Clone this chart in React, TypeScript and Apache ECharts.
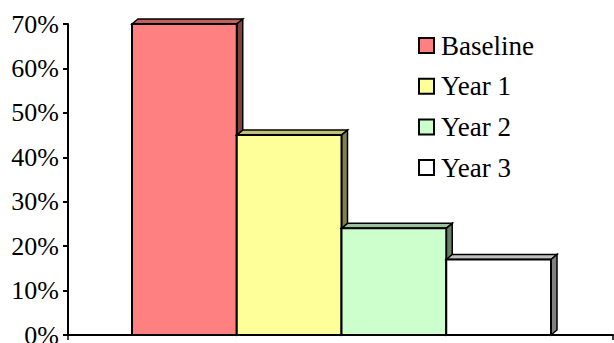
import { useEffect, useRef } from 'react';
import * as echarts from 'echarts';

const categories = [''];
const seriesNames = ['Baseline', 'Year 1', 'Year 2', 'Year 3'];
const seriesValues = [70, 45, 24, 17];
const frontColors = ['#FF8080', '#FFFF99', '#CCFFCC', '#FFFFFF'];
const topColors = ['#C06060', '#C0C07A', '#9ABF9A', '#C0C0C0'];
const sideColors = ['#804040', '#80804C', '#668066', '#808080'];

const FONT = 'Liberation Serif, serif';
const GAP = 64 / 545;
const BAR = 104.75 / 545;
const DX = 6;
const DY = 5;

export default function App() {
  const ref = useRef<HTMLDivElement>(null);
  useEffect(() => {
    if (!ref.current) return;
    const chart = echarts.init(ref.current, undefined, { renderer: 'svg' });
    const series = seriesNames.map((name, i) => ({
      type: 'custom',
      name,
      z: 2 + i,
      clip: false,
      itemStyle: { color: frontColors[i], borderColor: '#000', borderWidth: 2 },
      encode: { x: 0, y: 1 },
      data: [[0, seriesValues[i]]],
      renderItem: (params: any, api: any) => {
        const v = api.value(1);
        const base = api.coord([0, 0]);
        const top = api.coord([0, v]);
        const band = api.size([1, 0])[0];
        const l = base[0] - band / 2 + band * GAP + i * band * BAR;
        const r = l + band * BAR;
        const t = top[1];
        const b = base[1];
        return {
          type: 'group',
          children: [
            {
              type: 'polygon',
              shape: { points: [[l, t], [l + DX, t - DY], [r + DX, t - DY], [r, t]] },
              style: { fill: topColors[i], stroke: '#000', lineWidth: 1.5 },
            },
            {
              type: 'polygon',
              shape: { points: [[r, t], [r + DX, t - DY], [r + DX, b - DY], [r, b]] },
              style: { fill: sideColors[i], stroke: '#000', lineWidth: 1.5 },
            },
            {
              type: 'rect',
              shape: { x: l, y: t, width: r - l, height: b - t },
              style: { fill: frontColors[i], stroke: '#000', lineWidth: 2 },
            },
          ],
        };
      },
    }));
    chart.setOption({
      animation: false,
      backgroundColor: '#fff',
      textStyle: { fontFamily: FONT },
      grid: { left: 68, right: 1, top: 24, bottom: 8, containLabel: false, outerBoundsMode: 'none' },
      legend: {
        orient: 'vertical',
        left: 418,
        top: 32,
        padding: 0,
        itemWidth: 15,
        itemHeight: 15,
        itemGap: 13.7,
        icon: 'rect',
        data: seriesNames,
        itemStyle: { borderColor: '#000', borderWidth: 2 },
        textStyle: { fontFamily: FONT, fontSize: 27, color: '#000', lineHeight: 27, padding: [0, 0, 0, 2] },
        selectedMode: false,
      },
      xAxis: {
        type: 'category',
        data: categories,
        axisLine: { lineStyle: { color: '#000', width: 2 } },
        axisTick: { show: true, length: 5, lineStyle: { color: '#000', width: 1.5 } },
        axisLabel: { show: false },
        splitLine: { show: false },
      },
      yAxis: {
        type: 'value',
        min: 0,
        max: 70,
        interval: 10,
        axisLine: { show: true, lineStyle: { color: '#000', width: 2 } },
        axisTick: { show: true, length: 5, lineStyle: { color: '#000', width: 2 } },
        axisLabel: { formatter: '{value}%', fontFamily: FONT, fontSize: 26, color: '#000', margin: 9 },
        splitLine: { show: false },
      },
      series,
    });
    return () => chart.dispose();
  }, []);
  return (
    <div
      ref={ref}
      style={{ position: 'fixed', left: 0, top: 0, width: 614, height: 343, background: '#fff' }}
    />
  );
}
